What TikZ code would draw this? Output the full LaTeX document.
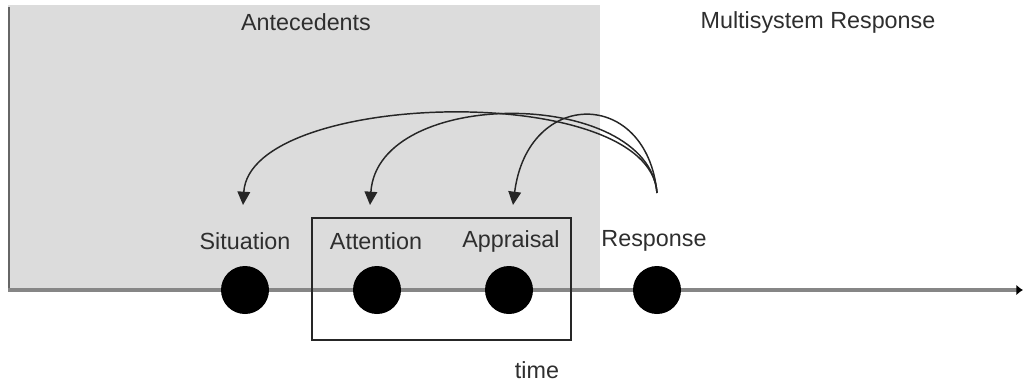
\documentclass[tikz,border=0pt]{standalone}
\usepackage{fontspec}
\setmainfont{Liberation Sans}
\usetikzlibrary{arrows.meta}
\definecolor{panel}{HTML}{DCDCDC}
\definecolor{axisgray}{HTML}{868686}
\tikzset{
  lbl/.style={font=\fontsize{17.5}{20}\selectfont, text=black!82, inner sep=0pt},
  dot/.style={circle, fill=black, minimum size=36pt, inner sep=0pt},
  loop/.style={draw=black!85, line width=1.1pt, -{Triangle[length=10pt,width=9.5pt]}},
}
\begin{document}
\begin{tikzpicture}[x=0.75pt,y=-0.75pt]
\useasboundingbox (0,0) rectangle (1023,387);
% antecedents panel
\fill[panel] (8,5) rectangle (600,290);
\draw[black!60, line width=1.2pt] (9,7) -- (9,290);
% titles
\node[lbl] (ante) at (306,22) {Antecedents};
\node[lbl] (multi) at (818,22) {Multisystem Response};
% time axis
\coordinate (axstart) at (8,290);
\coordinate (axend) at (1023,290);
\draw[axisgray, line width=2.6pt, -{Latex[length=5pt,width=8pt,black]}] (axstart) -- (axend);
% box around attention and appraisal
\node[draw=black!85, line width=1.3pt, minimum width=194.25pt, minimum height=91.5pt, inner sep=0pt] (frame) at (441.5,279) {};
% dots
\node[dot] (d1) at (245,290) {};
\node[dot] (d2) at (377,290) {};
\node[dot] (d3) at (509,290) {};
\node[dot] (d4) at (657,290) {};
% labels
\node[lbl] (sit) at (245,241) {Situation};
\node[lbl] (att) at (376,241) {Attention};
\node[lbl] (app) at (511,241) {Appraisal};
\node[lbl] (resp) at (654,241) {Response};
\node[lbl] (time) at (537,370) {time};
% feedback arrows
\coordinate (src) at (657,193);
\coordinate (t1) at (243,205);
\coordinate (t2) at (370,205);
\coordinate (t3) at (513,205);
\draw[loop] (src) .. controls (650,80) and (250,90) .. (t1);
\draw[loop] (src) .. controls (648,88) and (378,86) .. (t2);
\draw[loop] (src) .. controls (647,88) and (528,88) .. (t3);
\end{tikzpicture}
\end{document}
